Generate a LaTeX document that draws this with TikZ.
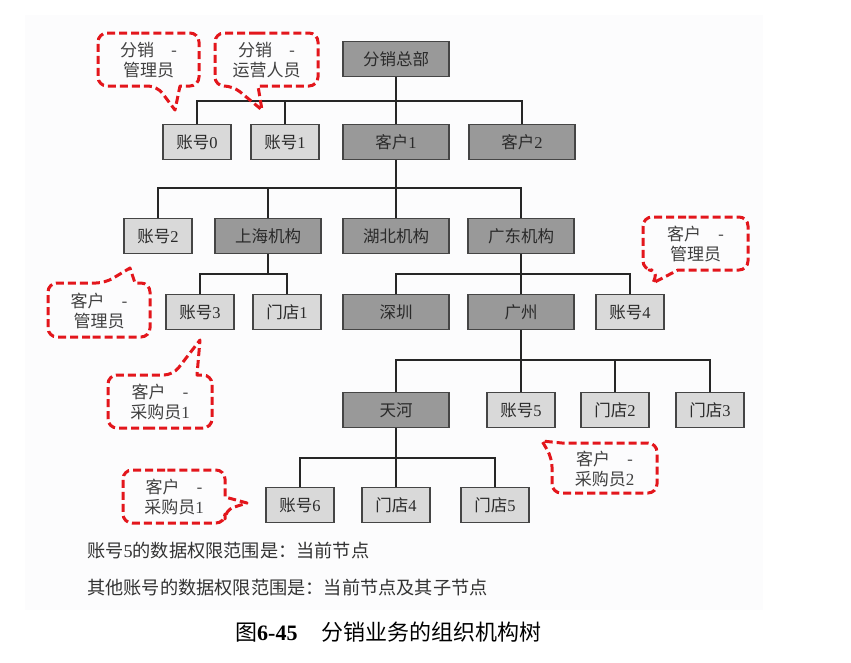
\documentclass[tikz,border=0pt]{standalone}
\usepackage{fontspec}
\setmainfont{Noto Sans CJK SC}
\newfontfamily\serifdigits{Liberation Serif}
\newcommand{\dg}[1]{{\serifdigits #1}}
\usetikzlibrary{calc}
\definecolor{darkbox}{HTML}{999999}
\definecolor{lightbox}{HTML}{D9D9D9}
\definecolor{boxline}{HTML}{454545}
\definecolor{bubblered}{HTML}{E3161C}
\definecolor{bgtint}{HTML}{FCFCFD}
\definecolor{txt}{HTML}{2A2A2A}
\begin{document}
\begin{tikzpicture}[x=1pt,y=-1pt,
 box/.style={draw=boxline,line width=1.6pt,minimum height=35pt,inner sep=0pt,text=txt,font=\fontsize{16.5}{18}\selectfont},
 dark/.style={box,fill=darkbox,minimum width=106pt},
 light/.style={box,fill=lightbox,minimum width=68pt},
 link/.style={line width=1.3pt,black!85},
 bubble/.style={draw=bubblered,line width=3pt,dash pattern=on 8pt off 4pt,line join=round},
 bubbletext/.style={align=center,text=black!75,font=\fontsize{17}{20}\selectfont,inner sep=0pt},
 note/.style={anchor=west,inner sep=0pt,text=black!80,font=\fontsize{18.2}{20}\selectfont},
]
\useasboundingbox (0,0) rectangle (851,662);
\fill[bgtint] (25,15) rectangle (763,610);

% boxes
\node[dark]  (root) at (396,59)  {分销总部};
\node[light] (a0) at (197,142) {账号\dg{0}};
\node[light] (a1) at (285,142) {账号\dg{1}};
\node[dark]  (k1) at (396,142) {客户\dg{1}};
\node[dark]  (k2) at (522,142) {客户\dg{2}};
\node[light] (a2) at (158,236) {账号\dg{2}};
\node[dark]  (sh) at (268,236) {上海机构};
\node[dark]  (hb) at (396,236) {湖北机构};
\node[dark]  (gd) at (521,236) {广东机构};
\node[light] (a3) at (200,312) {账号\dg{3}};
\node[light] (m1) at (287,312) {门店\dg{1}};
\node[dark]  (sz) at (396,312) {深圳};
\node[dark]  (gz) at (521,312) {广州};
\node[light] (a4) at (630,312) {账号\dg{4}};
\node[dark]  (th) at (396,410) {天河};
\node[light] (a5) at (521,410) {账号\dg{5}};
\node[light] (m2) at (615,410) {门店\dg{2}};
\node[light] (m3) at (710,410) {门店\dg{3}};
\node[light] (a6) at (300,505) {账号\dg{6}};
\node[light] (m4) at (396,505) {门店\dg{4}};
\node[light] (m5) at (495,505) {门店\dg{5}};

% buses
\coordinate (bus1) at (0,101);
\coordinate (bus2) at (0,188);
\coordinate (bus3) at (0,274);
\coordinate (bus5) at (0,360);
\coordinate (bus6) at (0,458);
\foreach \c in {a0,a1,k1,k2} \draw[link] (root.south) |- (bus1 -| \c.north) -- (\c.north);
\foreach \c in {a2,sh,hb,gd} \draw[link] (k1.south) |- (bus2 -| \c.north) -- (\c.north);
\foreach \c in {a3,m1} \draw[link] (sh.south) |- (bus3 -| \c.north) -- (\c.north);
\foreach \c in {sz,gz,a4} \draw[link] (gd.south) |- (bus3 -| \c.north) -- (\c.north);
\foreach \c in {th,a5,m2,m3} \draw[link] (gz.south) |- (bus5 -| \c.north) -- (\c.north);
\foreach \c in {a6,m4,m5} \draw[link] (th.south) |- (bus6 -| \c.north) -- (\c.north);

% callouts
\node[bubbletext] (t1) at (148.5,60) {分销\hspace{1em}-\\管理员};
\draw[bubble] (148,33) [rounded corners=9pt] -- (98,33) -- (98,86) -- (157,86) [sharp corners] -- (175,110) -- (180,86) [rounded corners=9pt] -- (199,86) -- (199,33) -- cycle;

\node[bubbletext] (t2) at (266.5,60) {分销\hspace{1em}-\\运营人员};
\draw[bubble] (266,33) [rounded corners=9pt] -- (215,33) -- (215,86) -- (233,86) [sharp corners] -- (262,110) -- (258,86) [rounded corners=9pt] -- (318,86) -- (318,33) -- cycle;

\node[bubbletext] (t3) at (99,310.5) {客户\hspace{1em}-\\管理员};
\draw[bubble] (99,337) [rounded corners=9pt] -- (48,337) -- (48,283) -- (105,283) [sharp corners] -- (130,268) -- (135,283) [rounded corners=9pt] -- (150,283) -- (150,337) -- cycle;

\node[bubbletext] (t4) at (160,402) {客户\hspace{1em}-\\采购员\dg{1}};
\draw[bubble] (160,428) [rounded corners=9pt] -- (108,428) -- (108,375) -- (173,375) [sharp corners] -- (200,340) -- (197,375) [rounded corners=9pt] -- (212,375) -- (212,428) -- cycle;

\node[bubbletext] (t5) at (695.5,244) {客户\hspace{1em}-\\管理员};
\draw[bubble] (695,217) [rounded corners=9pt] -- (643,217) -- (643,270) -- (658,270) [sharp corners] -- (653,283) -- (678,270) [rounded corners=9pt] -- (748,270) -- (748,217) -- cycle;

\node[bubbletext] (t6) at (604.5,468.5) {客户\hspace{1em}-\\采购员\dg{2}};
\draw[bubble] (604,493) [rounded corners=9pt] -- (552,493) -- (552,458) [sharp corners] -- (542,441) -- (562,443) [rounded corners=9pt] -- (657,443) -- (657,493) -- cycle;

\node[bubbletext] (t7) at (174,497) {客户\hspace{1em}-\\采购员\dg{1}};
\draw[bubble] (174,470) [rounded corners=9pt] -- (123,470) -- (123,523) -- (225,523) -- (225,510) [sharp corners] -- (247,503) -- (225,497) [rounded corners=9pt] -- (225,470) -- cycle;

% notes and caption
\node[note] (n1) at (87,551) {账号\dg{5}的数据权限范围是：当前节点};
\node[note] (n2) at (87,588) {其他账号的数据权限范围是：当前节点及其子节点};
\node[anchor=west,inner sep=0pt,font=\fontsize{22}{24}\selectfont] (cap) at (235,632) {图{\serifdigits\bfseries 6-45}\hspace{1.1em}分销业务的组织机构树};
\end{tikzpicture}
\end{document}
